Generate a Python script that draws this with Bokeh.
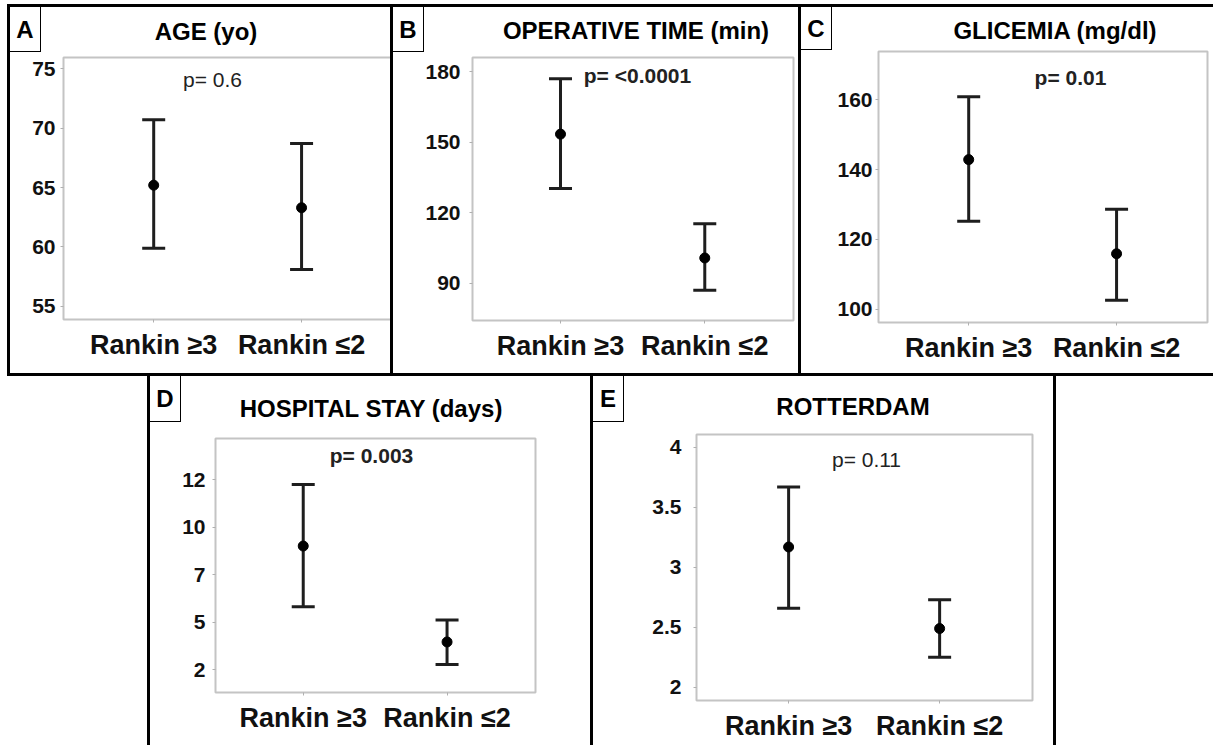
from bokeh.plotting import figure
from bokeh.models import ColumnDataSource, Whisker, TeeHead, Label, FixedTicker, Range1d, Spacer, Div
from bokeh.layouts import row, column
from bokeh.embed import file_html
from bokeh.resources import INLINE

# ---------------- data ----------------
groups = ["Rankin \u22653", "Rankin \u22642"]
group_pos = [1, 2]

age_mean = [65.2, 63.3]
age_lower = [59.9, 58.1]
age_upper = [70.7, 68.7]
age_ticks = [55, 60, 65, 70, 75]
age_tick_labels = ["55", "60", "65", "70", "75"]

op_mean = [153.4, 100.7]
op_lower = [130.3, 87.0]
op_upper = [177.0, 115.3]
op_ticks = [90, 120, 150, 180]
op_tick_labels = ["90", "120", "150", "180"]

gly_mean = [142.9, 115.9]
gly_lower = [125.2, 102.6]
gly_upper = [160.9, 128.7]
gly_ticks = [100, 120, 140, 160]
gly_tick_labels = ["100", "120", "140", "160"]

stay_mean = [9.0, 3.95]
stay_lower = [5.8, 2.76]
stay_upper = [12.24, 5.1]
stay_ticks = [2.5, 5, 7.5, 10, 12.5]
stay_tick_labels = ["2", "5", "7", "10", "12"]

rot_mean = [3.17, 2.49]
rot_lower = [2.66, 2.25]
rot_upper = [3.67, 2.73]
rot_ticks = [2, 2.5, 3, 3.5, 4]
rot_tick_labels = ["2", "2.5", "3", "3.5", "4"]

FONT = "Liberation Sans"
INK = "#1e1e1e"
B3 = "3px solid black"


def header(letter, title, width, height, title_cx, title_top, borders):
    html = (
        f'<div style="position:relative;width:{width}px;height:{height}px;">'
        f'<div style="position:absolute;left:0;top:0;width:31px;height:{height}px;box-sizing:border-box;'
        f'border-right:1px solid #000;border-bottom:1px solid #000;font-family:\'{FONT}\';'
        f'font-weight:bold;font-size:24px;line-height:{height}px;text-align:center;color:#000;">{letter}</div>'
        f'<div style="position:absolute;left:{title_cx}px;top:{title_top}px;transform:translateX(-50%);'
        f'white-space:nowrap;font-family:\'{FONT}\';font-weight:bold;font-size:24px;line-height:24px;'
        f'color:#000;">{title}</div></div>'
    )
    d = Div(text=html, width=width, height=height, margin=0)
    d.styles = dict({"box-sizing": "content-box", "overflow": "hidden", "padding": "0"}, **borders)
    return d


def make_plot(ptext, pbold, mean, lower, upper, yr, ticks, tick_labels,
              width, height, mbl, mbr, mbt, mbb, borders, p_off, y_standoff):
    xs, xe = 0.39, 2.615
    p = figure(width=width, height=height, output_backend="svg", toolbar_location=None,
               x_range=Range1d(xs, xe), y_range=Range1d(*yr),
               min_border_left=mbl, min_border_right=mbr, min_border_top=mbt,
               min_border_bottom=mbb)
    p.styles = dict({"box-sizing": "content-box"}, **borders)
    p.background_fill_color = "white"
    p.border_fill_color = "white"
    p.outline_line_color = "#c4c4c4"
    p.outline_line_width = 2
    p.grid.visible = False

    src = ColumnDataSource(dict(x=group_pos, mean=mean, lower=lower, upper=upper))
    w = Whisker(base="x", upper="upper", lower="lower", source=src,
                line_color=INK, line_width=3,
                upper_head=TeeHead(size=23, line_color=INK, line_width=3),
                lower_head=TeeHead(size=23, line_color=INK, line_width=3))
    p.add_layout(w)
    p.scatter("x", "mean", source=src, size=10, color="black")

    p.xaxis.ticker = FixedTicker(ticks=group_pos)
    p.xaxis.major_label_overrides = {k: v for k, v in zip(group_pos, groups)}
    p.yaxis.ticker = FixedTicker(ticks=ticks)
    p.yaxis.major_label_overrides = {k: v for k, v in zip(ticks, tick_labels)}
    for ax in (p.xaxis, p.yaxis):
        ax.axis_line_color = None
        ax.major_tick_line_color = "#b0b0b0"
        ax.major_tick_out = 3
        ax.major_tick_in = 0
        ax.minor_tick_line_color = None
        ax.major_label_text_font = FONT
        ax.major_label_text_font_style = "bold"
        ax.major_label_text_color = "#111111"
    p.xaxis.major_label_text_font_size = "27px"
    p.xaxis.major_label_standoff = 7
    p.yaxis.major_label_text_font_size = "21px"
    p.yaxis.major_label_standoff = y_standoff

    p.add_layout(Label(x=xs, y=yr[1], x_offset=p_off[0], y_offset=p_off[1], text=ptext,
                       text_align="center", text_baseline="alphabetic",
                       text_font=FONT, text_font_style="bold" if pbold else "normal",
                       text_font_size="21px", text_color="#222222"))
    return p


# Panel A
ha = header("A", "AGE (yo)", 380, 45, 196, 13,
            {"border-left": B3, "border-right": B3, "border-top": B3})
pa = make_plot("p= 0.6", False, age_mean, age_lower, age_upper, (53.9, 75.94),
               age_ticks, age_tick_labels, 380, 321, 53, 4, 5, 57,
               {"border-left": B3, "border-right": B3, "border-bottom": B3}, (149, -22), 5)
# Panel B
hb = header("B", "OPERATIVE TIME (min)", 405, 45, 243, 12,
            {"border-right": B3, "border-top": B3})
pb = make_plot("p= <0.0001", True, op_mean, op_lower, op_upper, (74.1, 186.0),
               op_ticks, op_tick_labels, 405, 321, 79, 8, 5, 56,
               {"border-right": B3, "border-bottom": B3}, (165, -18), 9)
# Panel C
hc = header("C", "GLICEMIA (mg/dl)", 412, 43, 254, 12, {"border-top": B3})
pc = make_plot("p= 0.01", True, gly_mean, gly_lower, gly_upper, (96.2, 173.9),
               gly_ticks, gly_tick_labels, 412, 323, 77, 6, 1, 54,
               {"border-bottom": B3}, (192, -26), 3)
# Panel D
hd = header("D", "HOSPITAL STAY (days)", 440, 46, 221, 21,
            {"border-left": B3, "border-right": B3})
pd_ = make_plot("p= 0.003", True, stay_mean, stay_lower, stay_upper, (1.29, 14.66),
                stay_ticks, stay_tick_labels, 440, 323, 65, 61, 16, 53,
                {"border-left": B3, "border-right": B3}, (156, -17), 7)
# Panel E
he = header("E", "ROTTERDAM", 460, 46, 260, 19, {"border-right": B3})
pe = make_plot("p= 0.11", False, rot_mean, rot_lower, rot_upper, (1.89, 4.108),
               rot_ticks, rot_tick_labels, 460, 323, 103, 24, 12, 45,
               {"border-right": B3}, (170, -25), 12)

layout = column(
    Spacer(width=10, height=4),
    row(Spacer(width=7, height=372), column(ha, pa), column(hb, pb), column(hc, pc)),
    row(Spacer(width=147, height=369), column(hd, pd_), column(he, pe)),
)

open("out.html", "w").write(file_html(layout, INLINE))
